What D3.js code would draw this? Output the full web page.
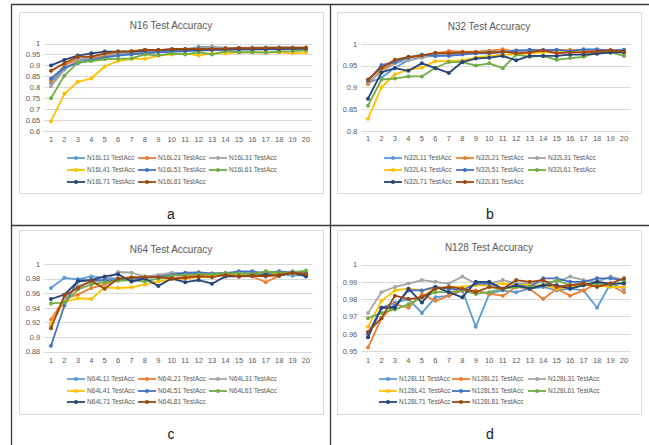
<!DOCTYPE html>
<html>
<head>
<meta charset="utf-8">
<script src="https://cdn.jsdelivr.net/npm/d3@7"></script>
<style>
  html, body { margin: 0; padding: 0; background: #ffffff; }
  svg { display: block; }
  text { font-family: "Liberation Sans", Arial, sans-serif; }
</style>
</head>
<body>
<svg id="fig" width="649" height="445"></svg>
<script>
// Epochs on the horizontal axis
const epochs = [1, 2, 3, 4, 5, 6, 7, 8, 9, 10, 11, 12, 13, 14, 15, 16, 17, 18, 19, 20];
// Layer configurations, one line per configuration
const layers = ["L11", "L21", "L31", "L41", "L51", "L61", "L71", "L81"];

// Y-axis tick labels per network width
const n16Ticks = ["0.6", "0.65", "0.7", "0.75", "0.8", "0.85", "0.9", "0.95", "1"];
const n32Ticks = ["0.8", "0.85", "0.9", "0.95", "1"];
const n64Ticks = ["0.88", "0.9", "0.92", "0.94", "0.96", "0.98", "1"];
const n128Ticks = ["0.95", "0.96", "0.97", "0.98", "0.99", "1"];

// Test accuracy per epoch, rows in the order of `layers`
const n16Acc = [
  [0.82, 0.885, 0.92, 0.93, 0.94, 0.95, 0.955, 0.96, 0.965, 0.97, 0.972, 0.985, 0.985, 0.98, 0.98, 0.98, 0.98, 0.982, 0.98, 0.98],
  [0.83, 0.90, 0.93, 0.935, 0.945, 0.955, 0.96, 0.965, 0.965, 0.97, 0.972, 0.975, 0.975, 0.975, 0.978, 0.975, 0.978, 0.978, 0.978, 0.978],
  [0.805, 0.88, 0.925, 0.94, 0.95, 0.955, 0.96, 0.965, 0.968, 0.97, 0.975, 0.98, 0.982, 0.98, 0.98, 0.982, 0.982, 0.983, 0.983, 0.983],
  [0.645, 0.77, 0.825, 0.84, 0.895, 0.92, 0.93, 0.93, 0.945, 0.95, 0.955, 0.945, 0.955, 0.955, 0.96, 0.96, 0.96, 0.96, 0.955, 0.96],
  [0.84, 0.89, 0.91, 0.925, 0.935, 0.945, 0.95, 0.955, 0.96, 0.962, 0.965, 0.968, 0.97, 0.97, 0.972, 0.972, 0.973, 0.973, 0.975, 0.975],
  [0.75, 0.853, 0.913, 0.92, 0.928, 0.93, 0.932, 0.95, 0.945, 0.955, 0.95, 0.96, 0.95, 0.965, 0.96, 0.96, 0.958, 0.963, 0.965, 0.97],
  [0.90, 0.925, 0.945, 0.955, 0.963, 0.963, 0.963, 0.968, 0.97, 0.972, 0.973, 0.972, 0.973, 0.975, 0.975, 0.975, 0.975, 0.975, 0.977, 0.977],
  [0.875, 0.91, 0.94, 0.94, 0.955, 0.963, 0.965, 0.972, 0.97, 0.975, 0.975, 0.975, 0.975, 0.977, 0.98, 0.978, 0.98, 0.98, 0.98, 0.98]
];
const n32Acc = [
  [0.91, 0.922, 0.945, 0.962, 0.97, 0.972, 0.975, 0.977, 0.978, 0.98, 0.982, 0.984, 0.983, 0.985, 0.982, 0.984, 0.984, 0.984, 0.984, 0.985],
  [0.907, 0.94, 0.96, 0.968, 0.972, 0.978, 0.983, 0.982, 0.982, 0.984, 0.987, 0.982, 0.984, 0.983, 0.985, 0.986, 0.985, 0.985, 0.985, 0.983],
  [0.912, 0.935, 0.955, 0.962, 0.968, 0.975, 0.977, 0.978, 0.98, 0.982, 0.982, 0.985, 0.982, 0.984, 0.982, 0.982, 0.98, 0.982, 0.983, 0.984],
  [0.828, 0.90, 0.93, 0.94, 0.945, 0.96, 0.96, 0.962, 0.968, 0.972, 0.975, 0.975, 0.978, 0.98, 0.98, 0.985, 0.98, 0.98, 0.98, 0.98],
  [0.915, 0.951, 0.958, 0.968, 0.975, 0.972, 0.972, 0.975, 0.978, 0.978, 0.98, 0.984, 0.986, 0.985, 0.986, 0.983, 0.987, 0.987, 0.984, 0.986],
  [0.858, 0.918, 0.92, 0.925, 0.925, 0.945, 0.958, 0.958, 0.95, 0.955, 0.944, 0.975, 0.97, 0.972, 0.963, 0.967, 0.97, 0.98, 0.98, 0.972],
  [0.874, 0.934, 0.944, 0.938, 0.955, 0.944, 0.933, 0.958, 0.966, 0.968, 0.972, 0.962, 0.972, 0.972, 0.972, 0.975, 0.975, 0.977, 0.98, 0.98],
  [0.918, 0.945, 0.963, 0.97, 0.973, 0.979, 0.978, 0.98, 0.98, 0.98, 0.982, 0.978, 0.98, 0.985, 0.978, 0.98, 0.98, 0.982, 0.985, 0.982]
];
const n64Acc = [
  [0.967, 0.981, 0.979, 0.983, 0.981, 0.98, 0.98, 0.982, 0.984, 0.985, 0.985, 0.986, 0.985, 0.986, 0.988, 0.987, 0.986, 0.987, 0.984, 0.985],
  [0.924, 0.952, 0.958, 0.967, 0.972, 0.978, 0.98, 0.983, 0.984, 0.98, 0.983, 0.984, 0.984, 0.985, 0.983, 0.983, 0.975, 0.984, 0.988, 0.986],
  [0.916, 0.952, 0.97, 0.975, 0.978, 0.989, 0.988, 0.983, 0.985, 0.988, 0.987, 0.989, 0.987, 0.988, 0.988, 0.988, 0.988, 0.988, 0.99, 0.989],
  [0.918, 0.948, 0.953, 0.952, 0.968, 0.967, 0.968, 0.972, 0.976, 0.979, 0.98, 0.982, 0.983, 0.985, 0.985, 0.986, 0.986, 0.986, 0.987, 0.988],
  [0.888, 0.943, 0.978, 0.978, 0.978, 0.978, 0.98, 0.981, 0.982, 0.985, 0.988, 0.988, 0.987, 0.987, 0.99, 0.99, 0.987, 0.99, 0.988, 0.987],
  [0.946, 0.947, 0.965, 0.972, 0.975, 0.977, 0.978, 0.976, 0.98, 0.984, 0.985, 0.986, 0.986, 0.987, 0.987, 0.986, 0.99, 0.988, 0.988, 0.991],
  [0.952, 0.958, 0.976, 0.978, 0.983, 0.986, 0.976, 0.98, 0.97, 0.98, 0.975, 0.978, 0.973, 0.983, 0.983, 0.984, 0.985, 0.984, 0.988, 0.983],
  [0.912, 0.957, 0.967, 0.977, 0.966, 0.98, 0.982, 0.982, 0.982, 0.98, 0.981, 0.983, 0.982, 0.985, 0.983, 0.984, 0.983, 0.985, 0.988, 0.986]
];
const n128Acc = [
  [0.958, 0.975, 0.978, 0.98, 0.972, 0.981, 0.982, 0.985, 0.964, 0.983, 0.985, 0.984, 0.986, 0.987, 0.985, 0.986, 0.985, 0.975, 0.989, 0.986],
  [0.952, 0.969, 0.977, 0.975, 0.983, 0.979, 0.982, 0.985, 0.985, 0.983, 0.982, 0.987, 0.986, 0.98, 0.986, 0.982, 0.985, 0.989, 0.988, 0.984],
  [0.972, 0.984, 0.987, 0.989, 0.991, 0.99, 0.989, 0.993, 0.989, 0.989, 0.991, 0.989, 0.989, 0.99, 0.99, 0.993, 0.991, 0.99, 0.993, 0.991],
  [0.964, 0.979, 0.985, 0.986, 0.985, 0.986, 0.987, 0.987, 0.988, 0.988, 0.989, 0.988, 0.988, 0.988, 0.986, 0.987, 0.988, 0.988, 0.987, 0.987],
  [0.96, 0.975, 0.976, 0.985, 0.985, 0.987, 0.986, 0.985, 0.989, 0.989, 0.986, 0.988, 0.987, 0.992, 0.992, 0.99, 0.99, 0.992, 0.992, 0.991],
  [0.969, 0.972, 0.974, 0.977, 0.981, 0.984, 0.984, 0.985, 0.983, 0.984, 0.986, 0.987, 0.987, 0.988, 0.991, 0.988, 0.989, 0.989, 0.988, 0.99],
  [0.958, 0.975, 0.975, 0.986, 0.978, 0.987, 0.984, 0.981, 0.99, 0.99, 0.986, 0.988, 0.986, 0.988, 0.988, 0.986, 0.988, 0.99, 0.989, 0.989],
  [0.961, 0.969, 0.982, 0.98, 0.981, 0.986, 0.987, 0.986, 0.984, 0.987, 0.986, 0.991, 0.99, 0.991, 0.987, 0.988, 0.989, 0.987, 0.989, 0.992]
];

// Office-style series colours
const colors = ["#5b9bd5", "#ed7d31", "#a5a5a5", "#ffc000", "#4472c4", "#70ad47", "#264478", "#9e480e"];

const svg = d3.select("#fig");

// Figure frame: table-like rules separating the four sub-figures
const rule = "#3a3a3a";
svg.append("line").attr("x1", 11.5).attr("x2", 11.5).attr("y1", 4).attr("y2", 445).attr("stroke", rule).attr("stroke-width", 1.3);
svg.append("line").attr("x1", 330.5).attr("x2", 330.5).attr("y1", 4).attr("y2", 445).attr("stroke", rule).attr("stroke-width", 1.3);
svg.append("line").attr("x1", 11).attr("x2", 649).attr("y1", 4.5).attr("y2", 4.5).attr("stroke", rule).attr("stroke-width", 1.3);
svg.append("line").attr("x1", 11).attr("x2", 649).attr("y1", 225.5).attr("y2", 225.5).attr("stroke", rule).attr("stroke-width", 1.3);

const panels = [
  { name: "N16", acc: n16Acc, ticks: n16Ticks, box: [19, 12, 323, 193], px: [51, 306], py: [131, 43.5], titleY: 28.7,
    xLabY: 142.5, legX: [67, 138, 209], legY: [158, 170, 182], tag: "a", tagX: 171, tagY: 219 },
  { name: "N32", acc: n32Acc, ticks: n32Ticks, box: [337, 12, 641, 193], px: [368, 624], py: [131, 43.7], titleY: 29.5,
    xLabY: 142, legX: [384, 456, 528], legY: [158, 170, 182], tag: "b", tagX: 490, tagY: 219 },
  { name: "N64", acc: n64Acc, ticks: n64Ticks, box: [19, 230, 323, 414], px: [51, 306], py: [351.5, 264], titleY: 253,
    xLabY: 364, legX: [67, 138, 209], legY: [379, 391, 402], tag: "c", tagX: 171, tagY: 439 },
  { name: "N128", acc: n128Acc, ticks: n128Ticks, box: [337, 230, 641, 414], px: [368, 624], py: [351, 264.5], titleY: 250.5,
    xLabY: 364, legX: [379, 452, 528], legY: [379, 391, 402], tag: "d", tagX: 490, tagY: 439 }
];

const textColor = "#595959";
const gridColor = "#d9d9d9";

panels.forEach(p => {
  const g = svg.append("g");
  const [bx0, by0, bx1, by1] = p.box;

  // chart area
  g.append("rect")
    .attr("x", bx0 + 0.5).attr("y", by0 + 0.5)
    .attr("width", bx1 - bx0).attr("height", by1 - by0)
    .attr("fill", "#fff").attr("stroke", gridColor).attr("stroke-width", 1);

  // title
  g.append("text")
    .attr("x", (bx0 + bx1) / 2).attr("y", p.titleY)
    .attr("text-anchor", "middle")
    .attr("font-size", 10).attr("fill", textColor)
    .text(p.name + " Test Accuracy");

  // scales: category axis with points in the band centres
  const step = (p.px[1] - p.px[0]) / (epochs.length - 1);
  const x = d3.scaleBand().domain(epochs)
    .range([p.px[0] - step / 2, p.px[1] + step / 2]).paddingInner(0).paddingOuter(0);
  const cx = d => x(d) + x.bandwidth() / 2;
  const tickVals = p.ticks.map(Number);
  const y = d3.scaleLinear().domain([tickVals[0], tickVals[tickVals.length - 1]]).range(p.py);
  const left = p.px[0] - step / 2, right = p.px[1] + step / 2;

  // horizontal gridlines
  g.append("g").selectAll("line").data(tickVals).join("line")
    .attr("x1", left).attr("x2", right)
    .attr("y1", d => Math.round(y(d)) + 0.5).attr("y2", d => Math.round(y(d)) + 0.5)
    .attr("stroke", gridColor).attr("stroke-width", 1);

  // y axis labels
  const yAxis = d3.axisLeft(y).tickValues(tickVals).tickSize(0).tickPadding(4)
    .tickFormat((d, i) => p.ticks[i]);
  const ya = g.append("g").attr("transform", `translate(${left},0)`).call(yAxis);
  ya.select(".domain").remove();
  ya.selectAll("text").attr("font-size", 7.5).attr("fill", textColor)
    .attr("font-family", "'Liberation Sans', Arial, sans-serif");

  // x axis labels
  const xAxis = d3.axisBottom(x).tickSize(0).tickPadding(0);
  const xa = g.append("g").attr("transform", `translate(0,${p.xLabY - 6})`).call(xAxis);
  xa.select(".domain").remove();
  xa.selectAll("text").attr("font-size", 7.5).attr("fill", textColor).attr("dy", "0.71em")
    .attr("font-family", "'Liberation Sans', Arial, sans-serif");

  // series lines and markers, first layer drawn first
  const line = d3.line().x((d, i) => cx(epochs[i])).y(d => y(d));
  p.acc.forEach((vals, k) => {
    const s = g.append("g");
    s.append("path").datum(vals)
      .attr("d", line).attr("fill", "none")
      .attr("stroke", colors[k]).attr("stroke-width", 1.8)
      .attr("stroke-linejoin", "round");
    s.selectAll("circle").data(vals).join("circle")
      .attr("cx", (d, i) => cx(epochs[i])).attr("cy", d => y(d))
      .attr("r", 2).attr("fill", colors[k]);
  });

  // legend: three per row
  layers.forEach((lay, k) => {
    const lx = p.legX[k % 3], ly = p.legY[Math.floor(k / 3)];
    const it = g.append("g");
    it.append("line").attr("x1", lx).attr("x2", lx + 18).attr("y1", ly).attr("y2", ly)
      .attr("stroke", colors[k]).attr("stroke-width", 1.8);
    it.append("circle").attr("cx", lx + 9).attr("cy", ly).attr("r", 2).attr("fill", colors[k]);
    it.append("text").attr("x", lx + 20).attr("y", ly + 2.4)
      .attr("font-size", 6.6).attr("fill", textColor)
      .text(p.name + lay + " TestAcc");
  });

  // sub-figure tag
  svg.append("text").attr("x", p.tagX).attr("y", p.tagY)
    .attr("text-anchor", "middle").attr("font-size", 14).attr("fill", "#1a1a1a")
    .text(p.tag);
});
</script>
</body>
</html>
